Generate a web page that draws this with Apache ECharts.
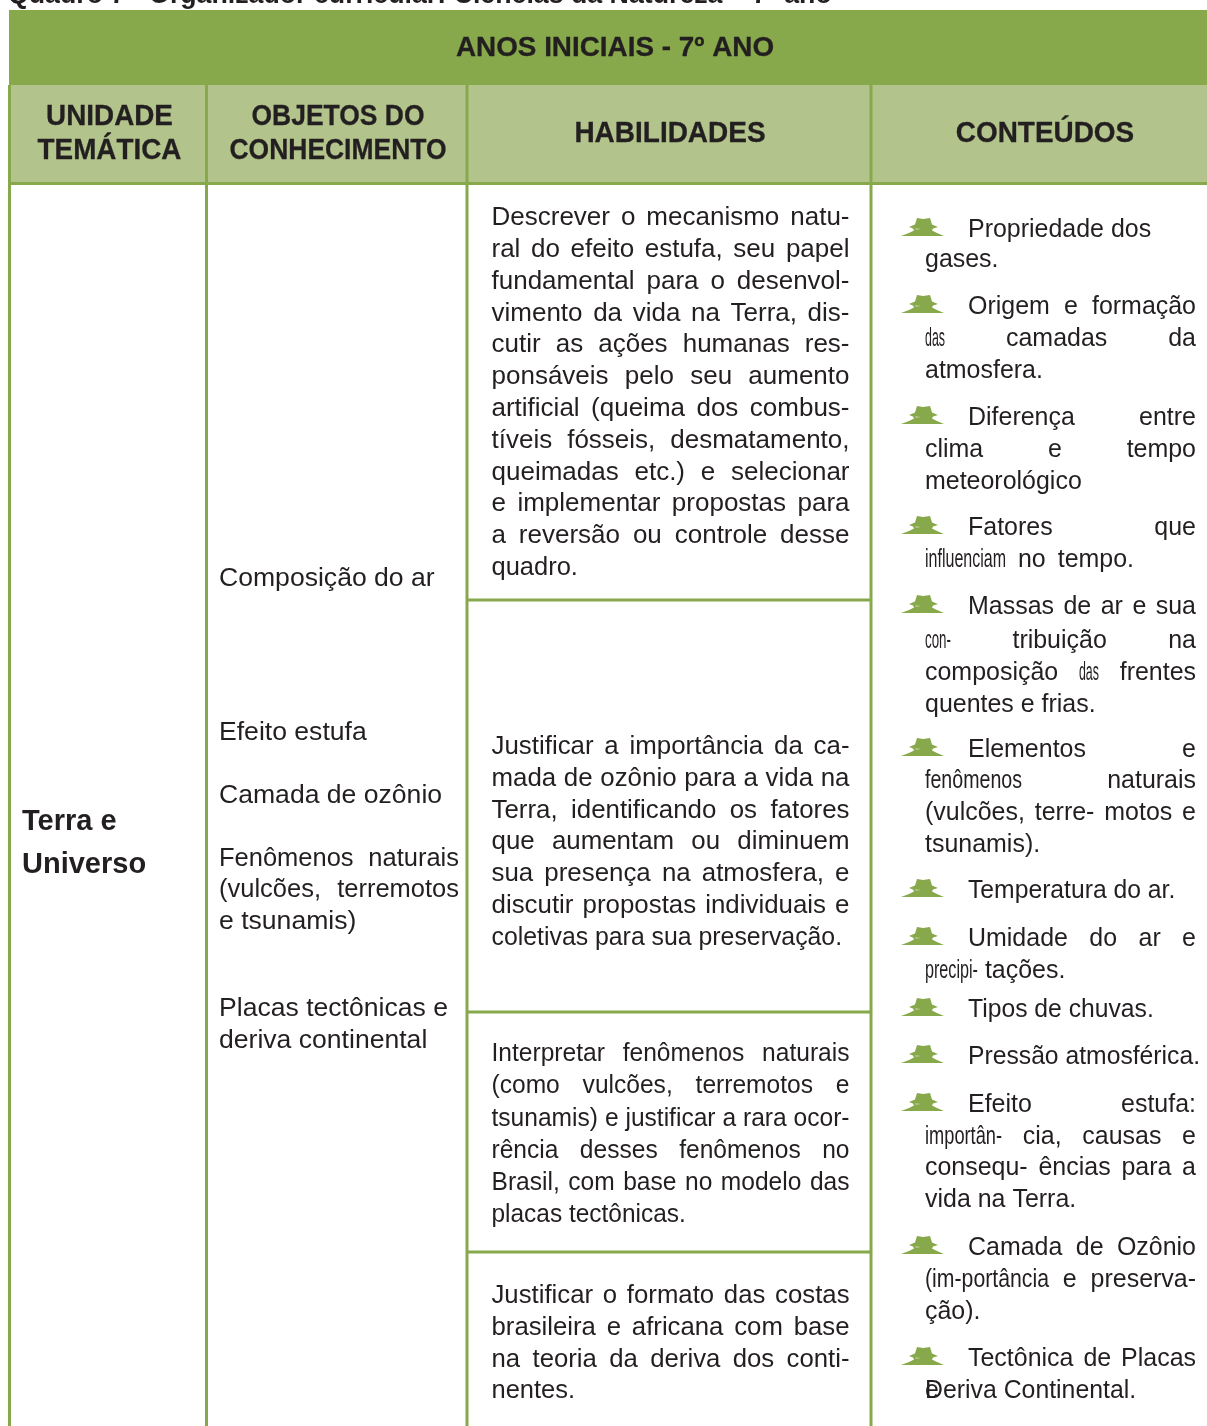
<!DOCTYPE html>
<html>
<head>
<meta charset="utf-8">
<style>
  html, body { margin: 0; padding: 0; background: #fff; }
  #main { width: 1207px; height: 1426px; }
</style>
<script src="https://cdn.jsdelivr.net/npm/echarts@6/dist/echarts.min.js"></script>
</head>
<body>
<div id="main"></div>
<script>
// texts
const caption = 'Quadro 7 - Organizador curricular: Ciências da Natureza – 7º ano'
const bandTitle = 'ANOS INICIAIS - 7º ANO'
const headers = [['UNIDADE', 'TEMÁTICA'], ['OBJETOS DO', 'CONHECIMENTO'], ['HABILIDADES'], ['CONTEÚDOS']]
const theme = ['Terra e', 'Universo']
const objetos = ['Composição do ar', 'Efeito estufa', 'Camada de ozônio', 'Fenômenos naturais', '(vulcões, terremotos', 'e tsunamis)', 'Placas tectônicas e', 'deriva continental']
const habilidades = [
  ['Descrever o mecanismo natu-', 'ral do efeito estufa, seu papel', 'fundamental para o desenvol-', 'vimento da vida na Terra, dis-', 'cutir as ações humanas res-', 'ponsáveis pelo seu aumento', 'artificial (queima dos combus-', 'tíveis fósseis, desmatamento,', 'queimadas etc.) e selecionar', 'e implementar propostas para', 'a reversão ou controle desse', 'quadro.'],
  ['Justificar a importância da ca-', 'mada de ozônio para a vida na', 'Terra, identificando os fatores', 'que aumentam ou diminuem', 'sua presença na atmosfera, e', 'discutir propostas individuais e', 'coletivas para sua preservação.'],
  ['Interpretar fenômenos naturais', '(como vulcões, terremotos e', 'tsunamis) e justificar a rara ocor-', 'rência desses fenômenos no', 'Brasil, com base no modelo das', 'placas tectônicas.'],
  ['Justificar o formato das costas', 'brasileira e africana com base', 'na teoria da deriva dos conti-', 'nentes.']
]
const conteudos = [
  ['Propriedade dos', 'gases.'],
  ['Origem e formação', 'das camadas da', 'atmosfera.'],
  ['Diferença entre', 'clima e tempo', 'meteorológico'],
  ['Fatores que', 'influenciam no tempo.'],
  ['Massas de ar e sua', 'con- tribuição na', 'composição das frentes', 'quentes e frias.'],
  ['Elementos e', 'fenômenos naturais', '(vulcões, terre- motos e', 'tsunamis).'],
  ['Temperatura do ar.'],
  ['Umidade do ar e', 'precipi- tações.'],
  ['Tipos de chuvas.'],
  ['Pressão atmosférica.'],
  ['Efeito estufa:', 'importân- cia, causas e', 'consequ- ências para a', 'vida na Terra.'],
  ['Camada de Ozônio', '(im-portância e preserva-', 'ção).'],
  ['Tectônica de Placas', 'e Deriva Continental.']
]

// layout
const objetosY = [577, 731, 794, 857, 888, 920, 1007, 1039]
const habStartY = [216, 745, 1052, 1294]
const habPitch = [31.8, 31.75, 32.2, 31.7]
const habTracking = [1.0, 0.995, 0.945, 0.99]
const habLastTracking = [0.98, 0.955, 0.94, 0.98]
const conteudosY = [
  [228, 258], [305, 337, 369], [416, 448, 480], [526, 558], [605, 639, 671, 703],
  [748, 779, 811, 843], [889], [937, 969], [1008], [1055],
  [1103, 1135, 1166, 1198], [1246, 1278, 1310], [1357, 1389]
]
// words squashed in the original typesetting of the last column: target widths in px
const squeezed = { 'das': 20, 'influenciam': 81, 'con-': 26, 'fenômenos': 97, 'importân-': 77, 'precipi-': 53, '(im-portância': 124 }
const verticals = [206.5, 467, 871]
const cellRules = [600, 1012, 1252]

const GREEN = '#87a94b'
const LIGHT = '#b2c48b'
const INK = '#231f20'
const FONT = '"Liberation Sans", Arial, sans-serif'

const measureCtx = document.createElement('canvas').getContext('2d')
function textWidth(str, size, weight) {
  measureCtx.font = (weight || 'normal') + ' ' + size + 'px ' + FONT
  return measureCtx.measureText(str).width
}

const els = []

function addRect(x, y, w, h, fill) {
  els.push({ type: 'rect', shape: { x: x, y: y, width: w, height: h }, style: { fill: fill }, silent: true })
}

function addText(str, x, y, size, opt) {
  opt = opt || {}
  const style = {
    text: str,
    fontSize: size,
    fontFamily: FONT,
    fontWeight: opt.weight || 'normal',
    fill: INK,
    align: opt.align || 'left',
    verticalAlign: 'middle'
  }
  if (opt.heavy) {
    style.stroke = INK
    style.lineWidth = 0.3
  }
  els.push({ type: 'text', x: x, y: y + 2, scaleX: opt.scaleX || 1, silent: true, style: style })
}

// one line; if right is set the spaces are stretched so it ends there
function addLine(str, left, right, y, size, tracking, squash) {
  const words = str.split(' ')
  const widths = words.map(function (w) {
    return squash && squash[w] !== undefined ? squash[w] : textWidth(w, size) * tracking
  })
  let gap = textWidth(' ', size) * tracking
  if (right !== null && words.length > 1) {
    const sum = widths.reduce(function (a, b) { return a + b }, 0)
    gap = (right - left - sum) / (words.length - 1)
  }
  let x = left
  words.forEach(function (w, i) {
    addText(w, x, y, size, { scaleX: widths[i] / textWidth(w, size) })
    x += widths[i] + gap
  })
}

function addBullet(x, y) {
  const hat = [[16, 0], [22, 1], [29, 0], [31, 6.5], [37, 9], [32, 10.5], [31, 12.5], [36, 15], [43, 18], [0, 18], [8, 15], [13, 12.5], [12, 10.5], [8, 9], [14, 6.5]]
  els.push({ type: 'polygon', x: x, y: y, silent: true, shape: { points: hat }, style: { fill: GREEN } })
  els.push({ type: 'polygon', x: x, y: y, silent: true, shape: { points: [[14, 10.5], [20, 11], [15, 11.6]] }, style: { fill: '#e4ebd2' } })
}

// header fills and rules
addRect(9, 10, 1198, 75, GREEN)
addRect(8, 85, 1199, 97, LIGHT)
addRect(8, 182, 1199, 3, GREEN)
addRect(8, 85, 3, 1341, GREEN)
verticals.forEach(function (x) { addRect(x - 1.5, 85, 3, 1341, GREEN) })
cellRules.forEach(function (y) { addRect(467, y - 1.5, 404, 3, GREEN) })

// caption, cut by the top of the page in the original
addText(caption, 8, -6, 27, { weight: 'bold', scaleX: 0.99 })
addText(bandTitle, 615, 46, 28, { weight: 'bold', align: 'center', scaleX: 0.995, heavy: true })

const headerX = [109.5, 338, 670, 1045]
const headerY = [[115, 149], [115, 149], [132], [132]]
const headerScale = [0.96, 0.912, 0.965, 0.963]
headers.forEach(function (lines, c) {
  lines.forEach(function (t, i) {
    addText(t, headerX[c], headerY[c][i], 29, { weight: 'bold', align: 'center', scaleX: headerScale[c], heavy: true })
  })
})

addText(theme[0], 22, 820, 29, { weight: 'bold' })
addText(theme[1], 22, 863, 29, { weight: 'bold' })

objetos.forEach(function (t, i) {
  const justify = t === 'Fenômenos naturais' || t === '(vulcões, terremotos'
  addLine(t, 219, justify ? 459 : null, objetosY[i], 26, justify ? 0.98 : 1.022)
})

habilidades.forEach(function (block, b) {
  block.forEach(function (t, i) {
    const last = i === block.length - 1
    addLine(t, 491.5, last ? null : 849.5, habStartY[b] + i * habPitch[b], 26, last ? habLastTracking[b] : habTracking[b])
  })
})

conteudos.forEach(function (item, n) {
  item.forEach(function (t, i) {
    const y = conteudosY[n][i]
    const last = i === item.length - 1
    const left = i === 0 ? 968 : 925
    if (i === 0) addBullet(901, y - 10)
    if (t.indexOf('e Deriva') === 0) {
      addText('e', 925, y, 26, { scaleX: 0.95 })
      addLine('Deriva Continental.', 925, null, y, 26, 0.955, squeezed)
      return
    }
    let right = 1196
    if (last || t === 'Propriedade dos') right = null
    if (t.indexOf('influenciam') === 0) right = 1134
    addLine(t, left, right, y, 26, item.length === 1 ? 0.95 : 0.96, squeezed)
  })
})

const chart = echarts.init(document.getElementById('main'), null, { renderer: 'canvas' })
chart.setOption({
  animation: false,
  backgroundColor: '#fff',
  graphic: { elements: els }
})
</script>
</body>
</html>
